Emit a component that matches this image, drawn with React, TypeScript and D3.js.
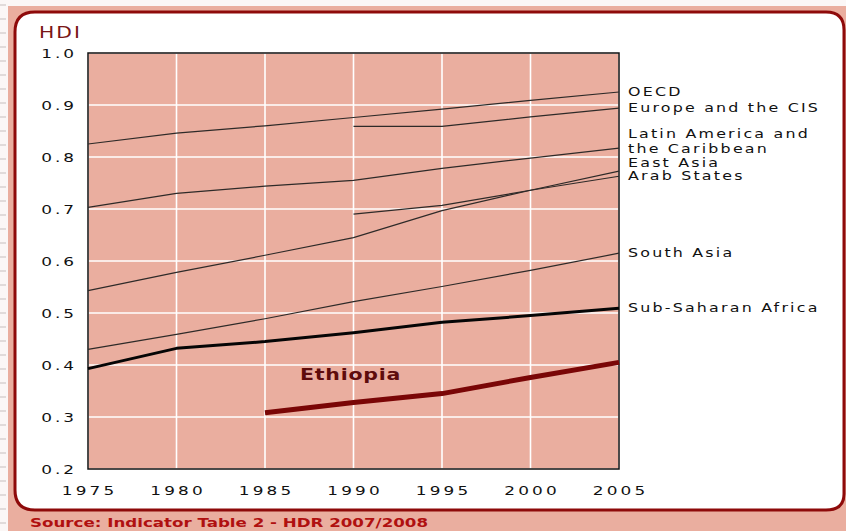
import React from "react";
import * as d3 from "d3";

const years = [1975, 1980, 1985, 1990, 1995, 2000, 2005];
const yTicks = [0.2, 0.3, 0.4, 0.5, 0.6, 0.7, 0.8, 0.9, 1.0];

const oecd = [0.825, 0.846, 0.860, 0.876, 0.892, 0.909, 0.925];
const europeCIS = [null, null, null, 0.859, 0.859, 0.877, 0.894];
const latinAmerica = [0.703, 0.730, 0.744, 0.755, 0.778, 0.798, 0.817];
const eastAsia = [0.543, 0.578, 0.611, 0.645, 0.697, 0.736, 0.773];
const arabStates = [null, null, null, 0.690, 0.707, 0.736, 0.763];
const southAsia = [0.430, 0.459, 0.489, 0.522, 0.551, 0.582, 0.615];
const subSaharan = [0.393, 0.432, 0.445, 0.462, 0.482, 0.495, 0.509];
const ethiopia = [null, null, 0.308, 0.328, 0.345, 0.376, 0.405];

const regionSeries = [oecd, europeCIS, latinAmerica, eastAsia, arabStates, southAsia];

const regionLabels: { lines: string[]; y: number }[] = [
  { lines: ["OECD"], y: 96 },
  { lines: ["Europe and the CIS"], y: 112 },
  { lines: ["Latin America and", "the Caribbean"], y: 138 },
  { lines: ["East Asia"], y: 167 },
  { lines: ["Arab States"], y: 180 },
  { lines: ["South Asia"], y: 257 },
  { lines: ["Sub-Saharan Africa"], y: 312 },
];

const FONT = "'DejaVu Sans', Verdana, sans-serif";
const SALMON = "#EAAE9F";
const DARKRED = "#8E0A0A";

function T(props: {
  x: number; y: number; anchor?: "start" | "middle" | "end"; sx?: number; ls?: number;
  size: number; weight?: string; fill?: string; children: React.ReactNode;
}) {
  const { x, y, anchor = "start", sx = 1.3, ls = 0, size, weight = "normal", fill = "#111" } = props;
  const dx = anchor === "end" ? ls : anchor === "middle" ? ls / 2 : 0;
  return (
    <text
      transform={`translate(${x},${y}) scale(${sx},1)`}
      dx={dx}
      textAnchor={anchor}
      fontSize={size}
      fontWeight={weight}
      letterSpacing={ls}
      fontFamily={FONT}
      fill={fill}
    >
      {props.children}
    </text>
  );
}

export default function App() {
  const W = 846, H = 531;
  const x = d3.scaleLinear().domain([1975, 2005]).range([88, 619]);
  const y = d3.scaleLinear().domain([0.2, 1.0]).range([469, 53]);

  const line = d3
    .line<number | null>()
    .defined((d) => d != null)
    .x((_, i) => x(years[i]))
    .y((d) => y(d as number));

  const [x0, x1] = x.range();
  const [y0, y1] = y.range();

  return (
    <svg width={W} height={H} style={{ position: "absolute", left: 0, top: 0 }}>
      <rect x={0} y={0} width={W} height={H} fill="#FBF7F6" />
      {d3.range(0, 531, 14).map((v) => (
        <line key={v} x1={0} x2={6} y1={v + 5} y2={v + 5} stroke="#D8D2D0" strokeWidth={1.5} />
      ))}
      <rect x={8} y={6} width={W - 8} height={H - 6} fill={SALMON} />
      {/* white panel */}
      <path
        d={`M15,${32} Q15,12 35,12 L826,12 Q844,12 844,30 L844,494 Q844,510 826,510 L35,510 Q15,510 15,490 Z`}
        fill="#fff"
        stroke={DARKRED}
        strokeWidth={3}
      />
      <T x={39} y={38} size={16} sx={1.27} ls={1.6} fill="#7A1616">HDI</T>

      {/* plot area */}
      <rect x={x0} y={y1} width={x1 - x0} height={y0 - y1} fill={SALMON} />
      {years.map((yr) => (
        <line key={"gx" + yr} x1={x(yr)} x2={x(yr)} y1={y1} y2={y0} stroke="#fff" strokeWidth={1.6} />
      ))}
      {yTicks.map((t) => (
        <line key={"gy" + t} x1={x0} x2={x1} y1={y(t)} y2={y(t)} stroke="#fff" strokeWidth={1.6} />
      ))}
      <rect x={x0} y={y1} width={x1 - x0} height={y0 - y1} fill="none" stroke="#111" strokeWidth={1.5} />

      {/* y tick labels */}
      {yTicks.map((t) => (
        <T key={"ty" + t} x={74} y={y(t) + 5} anchor="end" size={13} sx={1.3} ls={2.3}>
          {t.toFixed(1)}
        </T>
      ))}
      {/* x tick labels */}
      {years.map((yr) => (
        <T key={"tx" + yr} x={x(yr)} y={495} anchor="middle" size={13} sx={1.3} ls={2.4}>
          {String(yr)}
        </T>
      ))}

      {/* region lines */}
      {regionSeries.map((s, i) => (
        <path key={"r" + i} d={line(s) || ""} fill="none" stroke="#2E2A28" strokeWidth={1.2} />
      ))}
      <path d={line(subSaharan) || ""} fill="none" stroke="#050505" strokeWidth={3} strokeLinejoin="round" />
      <path d={line(ethiopia) || ""} fill="none" stroke="#7A0606" strokeWidth={5} strokeLinejoin="round" />

      <T x={300} y={380} size={16} weight="bold" sx={1.28} ls={0.6} fill="#5E0C0C">Ethiopia</T>

      {/* region labels */}
      {regionLabels.map((r, i) =>
        r.lines.map((ln, j) => (
          <T key={"l" + i + j} x={628} y={r.y + j * 15} size={12.2} sx={1.3} ls={1.7}>
            {ln}
          </T>
        ))
      )}

      <T x={30} y={527} size={12} weight="bold" sx={1.39} ls={0} fill="#B01010">
        Source: Indicator Table 2 - HDR 2007/2008
      </T>
    </svg>
  );
}
